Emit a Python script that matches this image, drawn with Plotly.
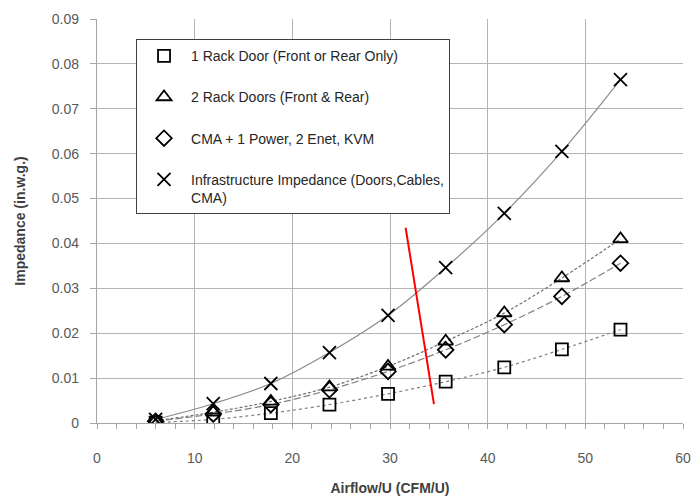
import plotly.graph_objects as go

airflow = [6.0, 11.9, 17.8, 23.8, 29.8, 35.7, 41.7, 47.6, 53.6]
one_door = [0.0001, 0.0008, 0.0022, 0.0041, 0.0065, 0.0092, 0.0124, 0.0164, 0.0208]
two_doors = [0.0005, 0.0024, 0.0048, 0.0080, 0.0126, 0.0182, 0.0245, 0.0323, 0.0410]
cma = [0.0004, 0.0020, 0.0041, 0.0074, 0.0115, 0.0163, 0.0219, 0.0282, 0.0356]
infra = [0.0008, 0.0043, 0.0088, 0.0157, 0.0240, 0.0346, 0.0467, 0.0605, 0.0765]

names = [
    "1 Rack Door (Front or Rear Only)",
    "2 Rack Doors (Front & Rear)",
    "CMA + 1 Power, 2 Enet, KVM",
    "Infrastructure Impedance (Doors,Cables,<br>CMA)",
]
series = [one_door, two_doors, cma, infra]
symbols = ["square-open", "triangle-up-open", "diamond-open", "x-thin-open"]
sizes = [12, 13, 12, 13]
dashes = ["dot", "3px,2px", "7px,3px", "solid"]
line_colors = ["#808080", "#707070", "#808080", "#8c8c8c"]

# red marker line (annotation) endpoints in data coordinates
red_x = [31.6, 34.5]
red_y = [0.0435, 0.0042]

fig = go.Figure()
for i, (nm, ys) in enumerate(zip(names, series)):
    fig.add_trace(go.Scatter(
        x=airflow, y=ys, mode="lines", line=dict(shape="spline", color=line_colors[i], width=1.2, dash=dashes[i]),
        showlegend=False, legendgroup=f"g{i}", hoverinfo="skip"))
for i, (nm, ys) in enumerate(zip(names, series)):
    fig.add_trace(go.Scatter(
        x=airflow, y=ys, mode="markers", name=nm, legendgroup=f"g{i}",
        marker=dict(symbol=symbols[i], size=sizes[i], color="black",
                    line=dict(color="black", width=1.8))))

fig.add_shape(type="line", x0=red_x[0], y0=red_y[0], x1=red_x[1], y1=red_y[1],
              xref="x", yref="y", line=dict(color="#ff0000", width=2))

axis_font = dict(family="Liberation Sans", size=14, color="#595959")
fig.update_layout(
    width=694, height=500,
    margin=dict(l=97, r=11, t=19, b=77),
    paper_bgcolor="white", plot_bgcolor="white",
    font=dict(family="Liberation Sans", color="#333333"),
    legend=dict(
        x=0.0666, y=0.95, xanchor="left", yanchor="top",
        bgcolor="white", bordercolor="#404040", borderwidth=1,
        font=dict(family="Liberation Sans", size=14, color="#262626"),
        tracegroupgap=20, traceorder="grouped", valign="top",
        itemwidth=44,
    ),
    xaxis=dict(
        range=[0, 60], dtick=10, tick0=0, showgrid=True, gridcolor="#b4b4b4", gridwidth=1.3,
        showline=True, linecolor="#a6a6a6", linewidth=1.3, automargin=False,
        ticks="outside", ticklen=5, tickcolor="#a6a6a6", tickfont=axis_font,
        ticklabelstandoff=17, zeroline=False,
        minor=dict(dtick=2, ticks="outside", ticklen=5, tickcolor="#a6a6a6", showgrid=False),
        title=dict(text="<b>Airflow/U (CFM/U)</b>", font=dict(family="Liberation Sans", size=14, color="#404040"), standoff=18),
    ),
    yaxis=dict(
        range=[0, 0.09], dtick=0.01, tick0=0, showgrid=True, gridcolor="#b4b4b4", gridwidth=1.3,
        showline=True, linecolor="#a6a6a6", linewidth=1.3, automargin=False,
        ticks="outside", ticklen=6, tickcolor="#a6a6a6", tickfont=axis_font,
        ticklabelstandoff=8, zeroline=False, tickformat="~g",
        title=dict(text="<b>Impedance (in.w.g.)</b>", font=dict(family="Liberation Sans", size=14, color="#404040"), standoff=22),
    ),
)

fig.write_html("out.html")
